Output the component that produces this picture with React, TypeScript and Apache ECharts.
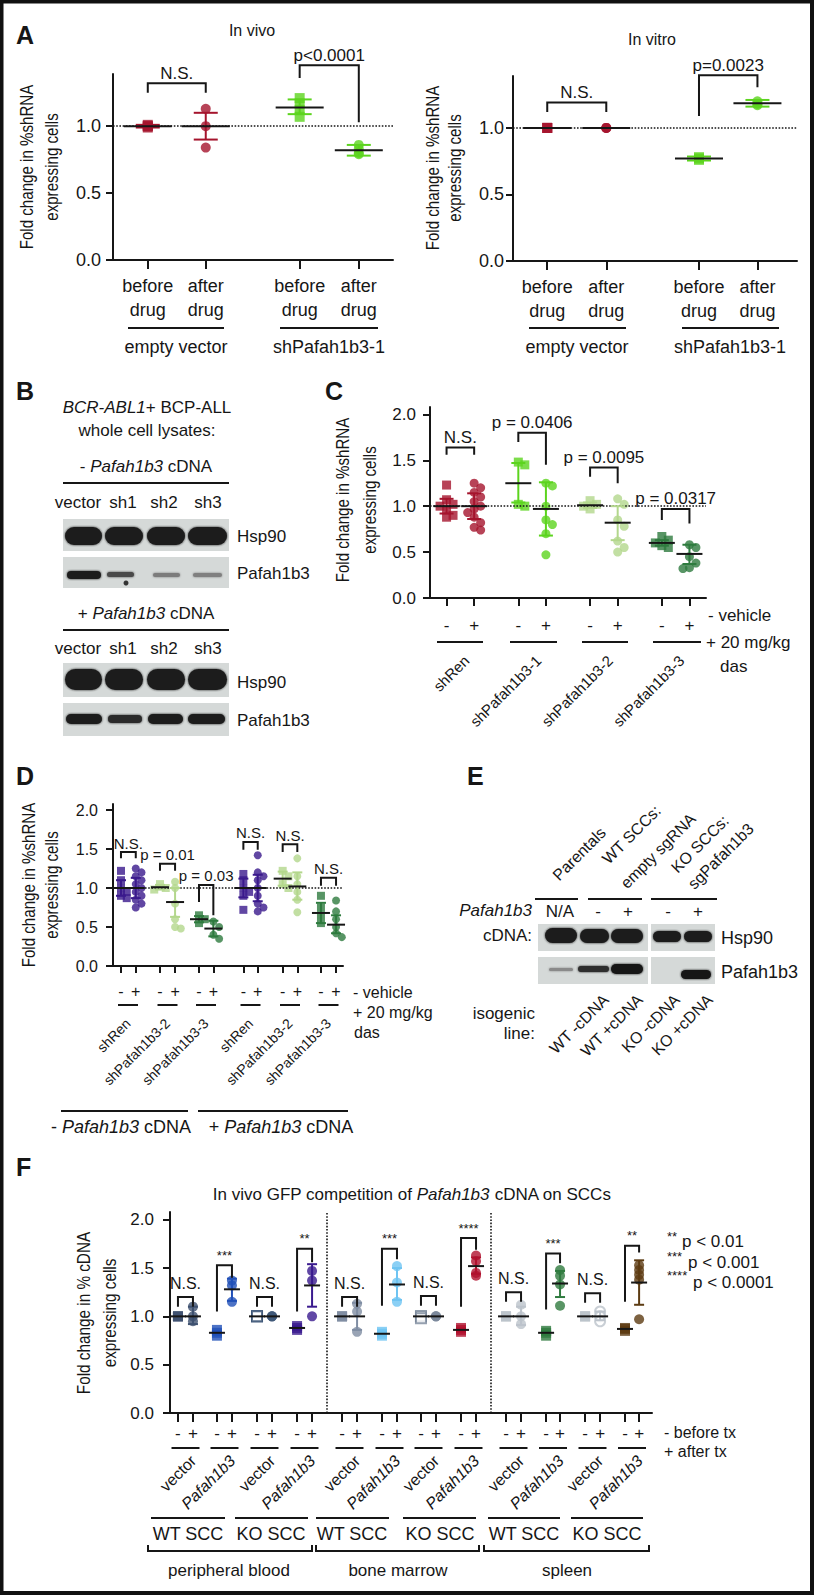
import React, { useEffect, useRef } from 'react';
import * as echarts from 'echarts';

const FONT = "'Liberation Sans', Arial, Helvetica, sans-serif";
const INK = '#161616';
const RED = '#a5142d';
const GREEN = '#5cd41e';
const LIGHT_GREEN = '#b3d78c';
const DARK_GREEN = '#2e7b3e';
const PURPLE = '#3a198c';

// ---------------- Panel A ----------------
const A_TICK_LABELS = ['before\ndrug', 'after\ndrug', 'before\ndrug', 'after\ndrug'];
const A_GROUP_LABELS = ['empty vector', 'shPafah1b3-1'];
const A_VIVO_POINTS = [[1.01, 1.0, 0.99, 1.0], [1.13, 1.0, 0.84], [1.21, 1.17, 1.12, 1.07], [0.86, 0.83, 0.8, 0.79]];
const A_VIVO_MEAN = [1.0, 1.0, 1.14, 0.82];
const A_VIVO_LOW = [0.99, 0.9, 1.09, 0.78];
const A_VIVO_HIGH = [1.01, 1.1, 1.2, 0.86];
const A_VIVO_BRACKETS: [number, number, number, number, number, string][] = [
  [0, 1, 1.32, 1.25, 1.25, 'N.S.'],
  [2, 3, 1.455, 1.36, 1.03, 'p<0.0001'],
];
const A_VITRO_POINTS = [[1.0, 1.0, 1.0], [1.0, 1.0, 1.0], [0.78, 0.77, 0.76], [1.2, 1.18, 1.17]];
const A_VITRO_MEAN = [1.0, 1.0, 0.77, 1.185];
const A_VITRO_LOW = [1.0, 1.0, 0.755, 1.16];
const A_VITRO_HIGH = [1.0, 1.0, 0.785, 1.21];
const A_VITRO_BRACKETS: [number, number, number, number, number, string][] = [
  [0, 1, 1.19, 1.12, 1.12, 'N.S.'],
  [2, 3, 1.395, 1.09, 1.305, 'p=0.0023'],
];
const A_Y_TICKS = [0, 0.5, 1.0];

// ---------------- Panel C ----------------
const C_TICK_LABELS = ['-', '+', '-', '+', '-', '+', '-', '+'];
const C_GROUP_LABELS = ['shRen', 'shPafah1b3-1', 'shPafah1b3-2', 'shPafah1b3-3'];
const C_POINTS = [
  [1.23, 1.07, 1.02, 1.0, 0.96, 0.9, 0.88],
  [1.25, 1.2, 1.15, 1.1, 1.05, 1.0, 0.97, 0.93, 0.88, 0.82, 0.77, 0.74],
  [1.48, 1.45, 1.02, 1.0],
  [1.25, 1.22, 1.0, 0.85, 0.8, 0.7, 0.47],
  [1.06, 1.02, 1.0, 0.97],
  [1.08, 1.02, 0.85, 0.78, 0.62, 0.55, 0.5],
  [0.67, 0.63, 0.6, 0.57, 0.55],
  [0.58, 0.55, 0.45, 0.38, 0.33, 0.32],
];
const C_MEAN = [1.0, 1.0, 1.25, 0.97, 1.01, 0.82, 0.6, 0.48];
const C_LOW = [0.92, 0.86, 1.04, 0.68, 0.98, 0.63, 0.57, 0.37];
const C_HIGH = [1.08, 1.14, 1.47, 1.26, 1.04, 1.0, 0.63, 0.58];
const C_BRACKETS: [number, number, number, number, number, string][] = [
  [0, 1, 1.64, 1.56, 1.56, 'N.S.'],
  [2, 3, 1.8, 1.7, 1.45, 'p = 0.0406'],
  [4, 5, 1.42, 1.32, 1.25, 'p = 0.0095'],
  [6, 7, 0.97, 0.85, 0.81, 'p = 0.0317'],
];
const CDF_Y_TICKS = [0, 0.5, 1.0, 1.5, 2.0];

// ---------------- Panel D ----------------
const D_TICK_LABELS = ['-', '+', '-', '+', '-', '+', '-', '+', '-', '+', '-', '+'];
const D_GROUP_LABELS = ['shRen', 'shPafah1b3-2', 'shPafah1b3-3', 'shRen', 'shPafah1b3-2', 'shPafah1b3-3'];
const D_POINTS = [
  [1.22, 1.1, 1.0, 0.95, 0.9, 0.87],
  [1.25, 1.2, 1.15, 1.1, 1.05, 1.0, 0.95, 0.9, 0.85, 0.8, 0.75],
  [1.05, 1.0, 0.98],
  [1.08, 1.0, 0.8, 0.6, 0.5, 0.48],
  [0.65, 0.6, 0.55],
  [0.57, 0.5, 0.4, 0.35],
  [1.18, 1.1, 1.0, 0.95, 0.9, 0.72],
  [1.42, 1.2, 1.15, 1.1, 1.0, 0.9, 0.8, 0.75, 0.7],
  [1.22, 1.15, 1.05, 1.0],
  [1.38, 1.15, 1.05, 0.95, 0.85, 0.69],
  [0.9, 0.75, 0.65, 0.55],
  [0.84, 0.7, 0.6, 0.5, 0.42, 0.37],
];
const D_MEAN = [1.0, 1.0, 1.01, 0.82, 0.6, 0.48, 1.0, 1.0, 1.12, 1.02, 0.68, 0.53];
const D_LOW = [0.9, 0.87, 0.98, 0.63, 0.56, 0.38, 0.88, 0.83, 1.03, 0.85, 0.55, 0.42];
const D_HIGH = [1.1, 1.13, 1.04, 1.0, 0.64, 0.58, 1.12, 1.17, 1.21, 1.2, 0.81, 0.65];
const D_BRACKETS: [number, number, number, number, number, string][] = [
  [0, 1, 1.46, 1.38, 1.38, 'N.S.'],
  [2, 3, 1.31, 1.22, 1.22, 'p = 0.01'],
  [4, 5, 1.04, 0.82, 0.65, 'p = 0.03'],
  [6, 7, 1.59, 1.49, 1.49, 'N.S.'],
  [8, 9, 1.56, 1.46, 1.46, 'N.S.'],
  [10, 11, 1.13, 1.03, 1.03, 'N.S.'],
];

// ---------------- Panel F ----------------
const F_TICK_LABELS = ['-', '+', '-', '+', '-', '+', '-', '+', '-', '+', '-', '+', '-', '+', '-', '+', '-', '+', '-', '+', '-', '+', '-', '+'];
const F_CONSTRUCTS = ['vector', 'Pafah1b3', 'vector', 'Pafah1b3', 'vector', 'Pafah1b3', 'vector', 'Pafah1b3', 'vector', 'Pafah1b3', 'vector', 'Pafah1b3'];
const F_LINES = ['WT SCC', 'KO SCC', 'WT SCC', 'KO SCC', 'WT SCC', 'KO SCC'];
const F_TISSUES = ['peripheral blood', 'bone marrow', 'spleen'];
const F_POINTS = [
  [1.0, 1.0, 1.0], [1.1, 1.0, 0.95],
  [0.86, 0.83, 0.8], [1.37, 1.32, 1.15],
  [1.0, 1.0, 1.0], [1.0, 1.0, 1.0],
  [0.9, 0.88, 0.86], [1.47, 1.37, 1.0],
  [1.0, 1.0, 1.0], [1.13, 1.05, 0.84],
  [0.84, 0.82, 0.8], [1.52, 1.35, 1.15],
  [1.0, 1.0, 0.98], [1.0, 1.0, 1.0],
  [0.88, 0.86, 0.84], [1.63, 1.57, 1.45, 1.42],
  [1.0, 1.0, 1.0], [1.12, 1.0, 0.92],
  [0.85, 0.83, 0.8], [1.48, 1.42, 1.33, 1.11],
  [1.0, 1.0, 1.0], [1.05, 1.0, 0.95],
  [0.88, 0.87, 0.85], [1.53, 1.48, 1.43, 1.38, 0.97],
];
const F_MEAN = [1.0, 1.0, 0.83, 1.28, 1.0, 1.0, 0.88, 1.32, 1.0, 1.0, 0.82, 1.33, 1.0, 1.0, 0.86, 1.52, 1.0, 1.0, 0.83, 1.34, 1.0, 1.0, 0.87, 1.35];
const F_LOW = [1.0, 0.92, 0.81, 1.16, 1.0, 1.0, 0.87, 1.1, 1.0, 0.86, 0.8, 1.17, 1.0, 1.0, 0.85, 1.44, 1.0, 0.91, 0.81, 1.2, 1.0, 0.96, 0.86, 1.12];
const F_HIGH = [1.0, 1.1, 0.85, 1.39, 1.0, 1.0, 0.89, 1.54, 1.0, 1.14, 0.84, 1.5, 1.0, 1.0, 0.87, 1.61, 1.0, 1.1, 0.85, 1.47, 1.0, 1.05, 0.88, 1.58];
const F_BRACKETS: [number, number, number, number, number, string][] = [
  [0, 1, 1.2, 1.1, 1.1, 'N.S.'],
  [2, 3, 1.53, 1.05, 1.4, '***'],
  [4, 5, 1.2, 1.1, 1.1, 'N.S.'],
  [6, 7, 1.7, 1.05, 1.56, '**'],
  [8, 9, 1.2, 1.1, 1.1, 'N.S.'],
  [10, 11, 1.7, 1.11, 1.59, '***'],
  [12, 13, 1.21, 1.11, 1.11, 'N.S.'],
  [14, 15, 1.81, 1.1, 1.69, '****'],
  [16, 17, 1.25, 1.15, 1.15, 'N.S.'],
  [18, 19, 1.65, 1.07, 1.55, '***'],
  [20, 21, 1.24, 1.14, 1.14, 'N.S.'],
  [22, 23, 1.73, 1.15, 1.66, '**'],
];

// ---------------- styles / layout ----------------
const A_COLORS = [RED, RED, GREEN, GREEN];
const C_COLORS = [RED, RED, GREEN, GREEN, LIGHT_GREEN, LIGHT_GREEN, DARK_GREEN, DARK_GREEN];
const D_COLORS = [PURPLE, PURPLE, LIGHT_GREEN, LIGHT_GREEN, DARK_GREEN, DARK_GREEN, PURPLE, PURPLE, LIGHT_GREEN, LIGHT_GREEN, DARK_GREEN, DARK_GREEN];
const F_PAIR_COLORS = ['#3e5170', '#2150b8', '#3f5878', '#3a1a8e', '#7f8da3', '#6ec4f2', '#7b889b', '#b0112e', '#bcc3cb', '#2f7b3f', '#bcc3cb', '#5c3b12'];
const F_COLORS = F_PAIR_COLORS.flatMap((c) => [c, c]);
const F_HOLLOW = [4, 12, 21];

const A1_SLOTS = [0.6, 1.6, 3.22, 4.24];
const A2_SLOTS = [0.58, 1.58, 3.15, 4.14];
const C_SLOTS = [0.6, 1.6, 3.2, 4.2, 5.8, 6.8, 8.4, 9.4];
const D_SLOTS = [0.55, 1.57, 3.24, 4.28, 5.93, 6.92, 8.99, 9.98, 11.7, 12.71, 14.34, 15.38];
const F_SLOTS = [0.53, 1.53, 3.13, 4.13, 5.8, 6.8, 8.47, 9.47, 11.47, 12.47, 14.13, 15.13, 16.73, 17.73, 19.4, 20.4, 22.4, 23.4, 25.07, 26.0, 27.67, 28.67, 30.33, 31.27];
const F_DIVIDERS = [10.47, 21.4];

// column-scatter layout: nudge overlapping markers sideways (deterministic, pixel offsets)
function swarmOffsets(vals: number[], pxPerUnit: number, size: number): number[] {
  const placed: [number, number][] = [];
  const step = size * 0.72;
  const minDist = size * 0.72;
  return vals.map((v) => {
    const py = v * pxPerUnit;
    const cands = [0, step, -step, 2 * step, -2 * step, 3 * step, -3 * step];
    for (const dx of cands) {
      if (placed.every(([px, qy]) => Math.hypot(px - dx, qy - py) >= minDist)) {
        placed.push([dx, py]);
        return dx;
      }
    }
    placed.push([0, py]);
    return 0;
  });
}

function pointsSeries(grid: number, slots: number[], groups: number[][], colors: string[], size: number, hollow: number[], pxPerUnit: number, markLine?: any) {
  const data: any[] = [];
  groups.forEach((vals, gi) => {
    const c = colors[gi];
    const isHollow = hollow.includes(gi);
    const offs = pxPerUnit > 0 ? swarmOffsets(vals, pxPerUnit, size) : vals.map(() => 0);
    vals.forEach((v, k) =>
      data.push({
        value: [slots[gi], v],
        symbol: gi % 2 === 0 ? 'rect' : 'circle',
        symbolOffset: [offs[k], 0],
        itemStyle: isHollow ? { color: '#ffffff', borderColor: c, borderWidth: 2 } : { color: c },
      })
    );
  });
  const s: any = { type: 'scatter', xAxisIndex: grid, yAxisIndex: grid, symbolSize: size, data, z: 3, silent: true };
  if (markLine) s.markLine = markLine;
  return s;
}

function statsSeries(grid: number, slots: number[], mean: number[], lo: number[], hi: number[], colors: string[], meanHalf: number, capHalf: number) {
  return {
    type: 'custom',
    xAxisIndex: grid,
    yAxisIndex: grid,
    z: 5,
    silent: true,
    clip: false,
    data: slots.map((x, i) => [x, mean[i], lo[i], hi[i]]),
    renderItem: (params: any, api: any) => {
      const i = params.dataIndex;
      const x = api.value(0);
      const pm = api.coord([x, api.value(1)]);
      const pl = api.coord([x, api.value(2)]);
      const ph = api.coord([x, api.value(3)]);
      const c = colors[i];
      const children: any[] = [];
      if (Math.abs(pl[1] - ph[1]) > 1.5) {
        children.push({ type: 'line', shape: { x1: pl[0], y1: pl[1], x2: ph[0], y2: ph[1] }, style: { stroke: c, lineWidth: 2 } });
        children.push({ type: 'line', shape: { x1: pl[0] - capHalf, y1: pl[1], x2: pl[0] + capHalf, y2: pl[1] }, style: { stroke: c, lineWidth: 2 } });
        children.push({ type: 'line', shape: { x1: ph[0] - capHalf, y1: ph[1], x2: ph[0] + capHalf, y2: ph[1] }, style: { stroke: c, lineWidth: 2 } });
      }
      children.push({ type: 'line', shape: { x1: pm[0] - meanHalf, y1: pm[1], x2: pm[0] + meanHalf, y2: pm[1] }, style: { stroke: INK, lineWidth: 2 } });
      return { type: 'group', children };
    },
  };
}

function bracketSeries(grid: number, slots: number[], brackets: [number, number, number, number, number, string][], font: number, dy: number, starFont = 13, starDy = 9) {
  return {
    type: 'custom',
    xAxisIndex: grid,
    yAxisIndex: grid,
    z: 6,
    silent: true,
    clip: false,
    data: brackets.map((b) => [slots[b[0]], slots[b[1]], b[2], b[3], b[4]]),
    renderItem: (params: any, api: any) => {
      const b = brackets[params.dataIndex];
      const x1 = api.value(0);
      const x2 = api.value(1);
      const pL = api.coord([x1, api.value(3)]);
      const pTL = api.coord([x1, api.value(2)]);
      const pTR = api.coord([x2, api.value(2)]);
      const pR = api.coord([x2, api.value(4)]);
      const star = b[5].startsWith('*');
      return {
        type: 'group',
        children: [
          { type: 'polyline', shape: { points: [pL, pTL, pTR, pR] }, style: { stroke: INK, lineWidth: 2, fill: null } },
          {
            type: 'text',
            x: (pTL[0] + pTR[0]) / 2,
            y: pTL[1] - (star ? starDy : dy),
            style: { text: b[5], fontSize: star ? starFont : font, fontFamily: FONT, fill: INK, align: 'center', verticalAlign: 'middle', textAlign: 'center', textVerticalAlign: 'middle' },
          },
        ],
      };
    },
  };
}

function nearest(slots: number[], v: number) {
  let k = 0;
  let best = Infinity;
  slots.forEach((s, i) => {
    const d = Math.abs(s - v);
    if (d < best) {
      best = d;
      k = i;
    }
  });
  return k;
}

function xAxisFor(grid: number, slots: number[], max: number, labels: string[], fontSize: number, margin: number, tickLen: number, lineHeight?: number) {
  return {
    type: 'value',
    gridIndex: grid,
    min: 0,
    max,
    axisLine: { show: true, onZero: false, lineStyle: { color: INK, width: 2 } },
    axisTick: { show: true, length: tickLen, customValues: slots, lineStyle: { color: INK, width: 2 } },
    axisLabel: {
      show: true,
      customValues: slots,
      formatter: (v: number) => labels[nearest(slots, v)],
      fontSize,
      fontFamily: FONT,
      color: INK,
      margin,
      lineHeight: lineHeight || fontSize + 3,
    },
    splitLine: { show: false },
  };
}

function yAxisFor(grid: number, max: number, ticks: number[], fontSize: number, margin: number) {
  return {
    type: 'value',
    gridIndex: grid,
    min: 0,
    max,
    axisLine: { show: true, onZero: false, lineStyle: { color: INK, width: 2 } },
    axisTick: { show: true, length: 7, customValues: ticks, lineStyle: { color: INK, width: 2 } },
    axisLabel: { show: true, customValues: ticks, formatter: (v: number) => v.toFixed(1), fontSize, fontFamily: FONT, color: INK, margin },
    splitLine: { show: false },
  };
}

const dottedOne = {
  silent: true,
  symbol: 'none',
  label: { show: false },
  lineStyle: { type: 'dotted', color: INK, width: 1.6 },
  data: [{ yAxis: 1 }],
};

// ---------- graphic helpers ----------
function T(x: number, y: number, text: string, size: number, align = 'center', extra: any = {}) {
  return {
    type: 'text',
    x,
    y,
    style: { text, fontSize: size, fontFamily: FONT, fill: INK, align, verticalAlign: 'middle', textAlign: align, textVerticalAlign: 'middle', fontStyle: extra.italic ? 'italic' : 'normal', fontWeight: extra.bold ? 'bold' : 'normal' },
  };
}
function R(x: number, y: number, parts: [string, boolean][], size: number, align = 'center') {
  const base = { fontSize: size, fontFamily: FONT, fill: INK };
  return {
    type: 'text',
    x,
    y,
    style: {
      text: parts.map(([t, it]) => `{${it ? 'i' : 'n'}|${t}}`).join(''),
      rich: { n: { ...base }, i: { ...base, fontStyle: 'italic' } },
      fontSize: size,
      fontFamily: FONT,
      fill: INK,
      align,
      verticalAlign: 'middle',
      textAlign: align,
      textVerticalAlign: 'middle',
    },
  };
}
function L(x1: number, y1: number, x2: number, y2: number, w = 2) {
  return { type: 'line', shape: { x1, y1, x2, y2 }, style: { stroke: INK, lineWidth: w } };
}
function rot(x: number, y: number, text: string, size: number, italic = false, angle = Math.PI / 4) {
  return {
    type: 'text',
    x,
    y,
    rotation: angle,
    style: { text, fontSize: size, fontFamily: FONT, fill: INK, fontStyle: italic ? 'italic' : 'normal', align: 'right', verticalAlign: 'middle', textAlign: 'right', textVerticalAlign: 'middle' },
  };
}
function yName(x: number, y: number, text: string, sx = 0.84) {
  return {
    type: 'text',
    x,
    y,
    rotation: Math.PI / 2,
    scaleX: sx,
    style: { text, fontSize: 18, fontFamily: FONT, fill: INK, align: 'center', verticalAlign: 'middle', textAlign: 'center', textVerticalAlign: 'middle' },
  };
}
function rect(x: number, y: number, w: number, h: number, fill: string, r = 0) {
  return { type: 'rect', shape: { x, y, width: w, height: h, r }, style: { fill } };
}
function band(x: number, y: number, w: number, h: number, fill = '#1b1b1b') {
  return { type: 'rect', shape: { x, y, width: w, height: h, r: h / 2 }, style: { fill, shadowBlur: 2, shadowColor: fill } };
}

function buildGraphics() {
  const g: any[] = [];
  const BLOT_BG = '#d5d9d8';
  g.push({ type: 'rect', shape: { x: 1.5, y: 1.5, width: 810.5, height: 1591.5 }, style: { fill: 'none', stroke: '#111', lineWidth: 4 } });
  const letters: [string, number, number][] = [['A', 16, 35], ['B', 16, 391], ['C', 325, 391], ['D', 16, 776], ['E', 467, 776], ['F', 16, 1167]];
  letters.forEach(([t, x, y]) => g.push(T(x, y, t, 25, 'left', { bold: true })));

  // ----- A -----
  g.push(T(252, 30, 'In vivo', 16));
  g.push(T(652, 39, 'In vitro', 16));
  g.push(yName(27, 167, 'Fold change in %shRNA'));
  g.push(yName(52, 167, 'expressing cells'));
  g.push(yName(433, 168, 'Fold change in %shRNA'));
  g.push(yName(455, 168, 'expressing cells'));
  const aLines: [number, number, number][] = [[128, 224, 176], [280, 378, 329], [529, 626, 577], [682, 779, 730]];
  aLines.forEach(([x1, x2, cx], i) => {
    g.push(L(x1, 328, x2, 328));
    g.push(T(cx, 347, A_GROUP_LABELS[i % 2], 18));
  });

  // ----- B -----
  g.push(R(147, 407, [['BCR-ABL1', true], ['+ BCP-ALL', false]], 17));
  g.push(T(147, 430, 'whole cell lysates:', 17));
  g.push(R(146, 466, [['- ', false], ['Pafah1b3', true], [' cDNA', false]], 17));
  g.push(L(63, 483, 229, 483));
  g.push(R(146, 613, [['+ ', false], ['Pafah1b3', true], [' cDNA', false]], 17));
  g.push(L(63, 630, 229, 630));
  const laneNames = ['vector', 'sh1', 'sh2', 'sh3'];
  const laneX = [78, 123, 164, 208];
  laneNames.forEach((n, i) => {
    g.push(T(laneX[i], 502, n, 17));
    g.push(T(laneX[i], 648, n, 17));
  });
  g.push(rect(63, 519, 166, 32, BLOT_BG));
  [[65, 37], [105, 38], [147, 38], [188, 39]].forEach(([x, w]) => g.push(band(x, 527, w, 18)));
  g.push(rect(63, 557, 166, 31, BLOT_BG));
  g.push(band(67, 571, 34, 8, '#1e1e1e'));
  g.push(band(107, 572, 27, 5, '#4a4a4a'));
  g.push({ type: 'circle', shape: { cx: 126, cy: 583, r: 2.5 }, style: { fill: '#333' } });
  g.push(band(153, 573, 27, 4, '#7c7c7c'));
  g.push(band(193, 573, 29, 4, '#808080'));
  g.push(rect(63, 663, 166, 34, BLOT_BG));
  [[65, 37], [105, 38], [147, 38], [188, 39]].forEach(([x, w]) => g.push(band(x, 669, w, 21)));
  g.push(rect(63, 703, 166, 33, BLOT_BG));
  g.push(band(66, 714, 36, 10));
  g.push(band(108, 715, 34, 8, '#2a2a2a'));
  g.push(band(148, 714, 35, 10));
  g.push(band(188, 714, 37, 10));
  g.push(T(237, 536, 'Hsp90', 17, 'left'));
  g.push(T(237, 573, 'Pafah1b3', 17, 'left'));
  g.push(T(237, 682, 'Hsp90', 17, 'left'));
  g.push(T(237, 720, 'Pafah1b3', 17, 'left'));

  // ----- C -----
  g.push(yName(343, 500, 'Fold change in %shRNA'));
  g.push(yName(370, 500, 'expressing cells'));
  [[437, 483], [510, 557], [582, 628], [653, 701]].forEach(([x1, x2]) => g.push(L(x1, 642, x2, 642)));
  [460.5, 532.5, 604, 675.5].forEach((cx, i) => g.push(rot(cx + 6, 658, C_GROUP_LABELS[i], 15)));
  g.push(T(708, 615, '- vehicle', 17, 'left'));
  g.push(T(706, 642, '+ 20 mg/kg', 17, 'left'));
  g.push(T(720, 666, 'das', 17, 'left'));

  // ----- D -----
  g.push(yName(29, 885, 'Fold change in %shRNA'));
  g.push(yName(52, 885, 'expressing cells'));
  const dCenters = [128, 167.5, 206, 250.5, 290, 328.5];
  dCenters.forEach((cx, i) => {
    g.push(L(cx - 10, 1005, cx + 10, 1005));
    g.push(rot(cx, 1021, D_GROUP_LABELS[i], 14));
  });
  g.push(T(353, 992, '- vehicle', 16, 'left'));
  g.push(T(353, 1012, '+ 20 mg/kg', 16, 'left'));
  g.push(T(354, 1032, 'das', 16, 'left'));
  g.push(L(61, 1111, 188, 1111));
  g.push(L(198, 1111, 348, 1111));
  g.push(R(121, 1127, [['- ', false], ['Pafah1b3', true], [' cDNA', false]], 18));
  g.push(R(281, 1127, [['+ ', false], ['Pafah1b3', true], [' cDNA', false]], 18));

  // ----- E -----
  g.push(rot(603, 830, 'Parentals', 16));
  g.push(rot(658, 808, 'WT SCCs:', 16));
  g.push(rot(693, 816, 'empty sgRNA', 16));
  g.push(rot(726, 818, 'KO SCCs:', 16));
  g.push(rot(751, 826, 'sgPafah1b3', 16));
  g.push(L(535, 899, 578, 899));
  g.push(L(588, 899, 642, 899));
  g.push(L(651, 899, 717, 899));
  g.push(T(532, 910, 'Pafah1b3', 17, 'right', { italic: true }));
  g.push(T(532, 935, 'cDNA:', 17, 'right'));
  g.push(T(560, 911, 'N/A', 17));
  g.push(T(598, 911, '-', 17));
  g.push(T(628, 911, '+', 17));
  g.push(T(668, 911, '-', 17));
  g.push(T(698, 911, '+', 17));
  g.push(rect(538, 924, 110, 27, BLOT_BG));
  g.push(rect(651, 924, 64, 27, BLOT_BG));
  g.push(band(545, 928, 32, 15));
  g.push(band(580, 929, 29, 14));
  g.push(band(611, 929, 32, 14));
  g.push(band(653, 931, 28, 11));
  g.push(band(684, 931, 28, 11));
  g.push(rect(538, 957, 110, 27, BLOT_BG));
  g.push(rect(651, 957, 64, 27, BLOT_BG));
  g.push(band(549, 968, 24, 3, '#8a8a8a'));
  g.push(band(578, 966, 31, 6, '#2e2e2e'));
  g.push(band(611, 964, 32, 10, '#161616'));
  g.push(band(681, 970, 30, 9, '#161616'));
  g.push(T(721, 938, 'Hsp90', 18, 'left'));
  g.push(T(721, 972, 'Pafah1b3', 18, 'left'));
  g.push(T(535, 1013, 'isogenic', 17, 'right'));
  g.push(T(535, 1033, 'line:', 17, 'right'));
  g.push(rot(606, 997, 'WT -cDNA', 16));
  g.push(rot(640, 997, 'WT +cDNA', 16));
  g.push(rot(677, 997, 'KO -cDNA', 16));
  g.push(rot(710, 997, 'KO +cDNA', 16));

  // ----- F -----
  g.push(R(412, 1194, [['In vivo GFP competition of ', false], ['Pafah1b3', true], [' cDNA on SCCs', false]], 17));
  g.push(yName(84, 1313, 'Fold change in % cDNA', 0.85));
  g.push(yName(110, 1313, 'expressing cells', 0.85));
  g.push(T(667, 1236, '**', 13, 'left'));
  g.push(T(682, 1241, 'p < 0.01', 17, 'left'));
  g.push(T(667, 1256, '***', 13, 'left'));
  g.push(T(688, 1262, 'p < 0.001', 17, 'left'));
  g.push(T(667, 1275, '****', 13, 'left'));
  g.push(T(693, 1282, 'p < 0.0001', 17, 'left'));
  g.push(T(664, 1432, '- before tx', 16, 'left'));
  g.push(T(664, 1451, '+ after tx', 16, 'left'));
  const fCenters = [185.5, 224.5, 264.5, 304.5, 349.5, 389.5, 428.5, 468.5, 513.5, 553, 592.5, 632];
  fCenters.forEach((cx, i) => {
    g.push(L(cx - 14, 1448, cx + 14, 1448));
    g.push(rot(cx + 8, 1458, F_CONSTRUCTS[i], 16, i % 2 === 1));
  });
  const fGroupLines = [[151, 225], [235, 308], [316, 389], [403, 476], [488, 560], [571, 643]];
  const fGroupCenters = [188, 271, 352, 440, 524, 607];
  fGroupLines.forEach(([x1, x2], i) => {
    g.push(L(x1, 1518, x2, 1518));
    g.push(T(fGroupCenters[i], 1534, F_LINES[i], 18));
  });
  const braces = [[148, 312], [316, 479], [484, 649]];
  const tissueCenters = [229, 398, 567];
  braces.forEach(([x1, x2], i) => {
    g.push({ type: 'polyline', shape: { points: [[x1, 1545], [x1, 1551], [x2, 1551], [x2, 1545]] }, style: { stroke: INK, lineWidth: 2, fill: null } });
    g.push(T(tissueCenters[i], 1570, F_TISSUES[i], 17));
  });
  return g;
}

function buildOption(): any {
  return {
    animation: false,
    backgroundColor: '#ffffff',
    grid: [
      { left: 113, top: 74, width: 280, height: 186 },
      { left: 513, top: 76, width: 284, height: 185 },
      { left: 430, top: 407, width: 276, height: 191 },
      { left: 113, top: 804, width: 230, height: 162 },
      { left: 170, top: 1212, width: 482, height: 201 },
    ],
    xAxis: [
      xAxisFor(0, A1_SLOTS, 4.83, A_TICK_LABELS, 18, 14, 9, 24),
      xAxisFor(1, A2_SLOTS, 4.81, A_TICK_LABELS, 18, 14, 9, 24),
      xAxisFor(2, C_SLOTS, 10, C_TICK_LABELS, 17, 17, 8),
      xAxisFor(3, D_SLOTS, 15.86, D_TICK_LABELS, 16, 16, 7),
      xAxisFor(4, F_SLOTS, 32.13, F_TICK_LABELS, 17, 10, 9),
    ],
    yAxis: [
      yAxisFor(0, 1.39, A_Y_TICKS, 18, 12),
      yAxisFor(1, 1.39, A_Y_TICKS, 18, 9),
      yAxisFor(2, 2.08, CDF_Y_TICKS, 17, 14),
      yAxisFor(3, 2.077, CDF_Y_TICKS, 16, 15),
      yAxisFor(4, 2.08, CDF_Y_TICKS, 17, 16),
    ],
    series: [
      pointsSeries(0, A1_SLOTS, A_VIVO_POINTS, A_COLORS, 10, [], 0, dottedOne),
      statsSeries(0, A1_SLOTS, A_VIVO_MEAN, A_VIVO_LOW, A_VIVO_HIGH, A_COLORS, 24, 12),
      bracketSeries(0, A1_SLOTS, A_VIVO_BRACKETS, 17, 10),
      pointsSeries(1, A2_SLOTS, A_VITRO_POINTS, A_COLORS, 10, [], 0, dottedOne),
      statsSeries(1, A2_SLOTS, A_VITRO_MEAN, A_VITRO_LOW, A_VITRO_HIGH, A_COLORS, 24, 12),
      bracketSeries(1, A2_SLOTS, A_VITRO_BRACKETS, 17, 10),
      pointsSeries(2, C_SLOTS, C_POINTS, C_COLORS, 9, [], 191 / 2.08, dottedOne),
      statsSeries(2, C_SLOTS, C_MEAN, C_LOW, C_HIGH, C_COLORS, 13, 7),
      bracketSeries(2, C_SLOTS, C_BRACKETS, 17, 10),
      pointsSeries(3, D_SLOTS, D_POINTS, D_COLORS, 8, [], 162 / 2.077, dottedOne),
      statsSeries(3, D_SLOTS, D_MEAN, D_LOW, D_HIGH, D_COLORS, 9, 5),
      bracketSeries(3, D_SLOTS, D_BRACKETS, 15, 9),
      pointsSeries(4, F_SLOTS, F_POINTS, F_COLORS, 10, F_HOLLOW, 0, {
        silent: true,
        symbol: 'none',
        label: { show: false },
        lineStyle: { type: 'dotted', color: INK, width: 1.6 },
        data: F_DIVIDERS.map((x) => ({ xAxis: x })),
      }),
      statsSeries(4, F_SLOTS, F_MEAN, F_LOW, F_HIGH, F_COLORS, 8, 5),
      bracketSeries(4, F_SLOTS, F_BRACKETS, 16, 14, 13, 10),
    ],
    graphic: buildGraphics(),
  };
}

export default function App() {
  const ref = useRef<HTMLDivElement>(null);
  useEffect(() => {
    if (!ref.current) return;
    const chart = echarts.init(ref.current, undefined, { renderer: 'svg' });
    chart.setOption(buildOption());
    return () => chart.dispose();
  }, []);
  return <div ref={ref} style={{ position: 'absolute', left: 0, top: 0, width: 815, height: 1595, background: '#ffffff' }} />;
}
